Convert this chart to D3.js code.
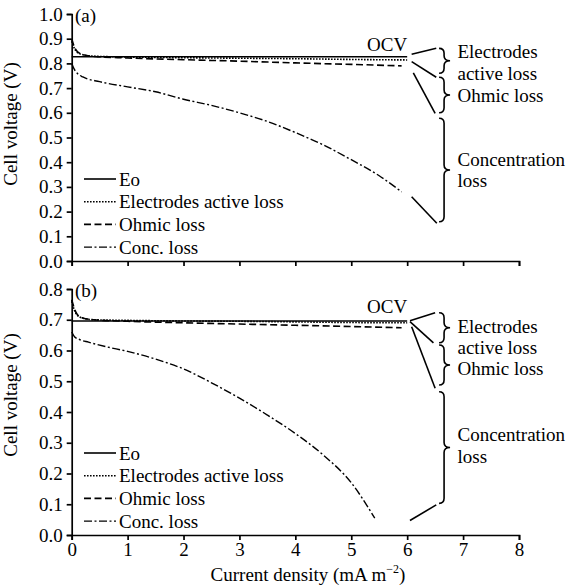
<!DOCTYPE html>
<html><head><meta charset="utf-8">
<script src="https://cdn.jsdelivr.net/npm/d3@7"></script>
<style>
body{margin:0;background:#fff}
text{font-family:"Liberation Serif","Times New Roman",serif;fill:#000}
</style>
</head><body>
<svg id="chart" width="568" height="588"></svg>
<script>
// ---------- data ----------
const seriesNames = ["Eo", "Electrodes active loss", "Ohmic loss", "Conc. loss"];
const xTickValues = [0, 1, 2, 3, 4, 5, 6, 7, 8];
const yTicksA = [0, 0.1, 0.2, 0.3, 0.4, 0.5, 0.6, 0.7, 0.8, 0.9, 1.0];
const yTicksB = [0, 0.1, 0.2, 0.3, 0.4, 0.5, 0.6, 0.7, 0.8];

// panel (a)
const aEo = [[0, 0.827], [6.0, 0.827]];
const aActive = [[0, 0.89], [0.05, 0.86], [0.1, 0.845], [0.2, 0.835], [0.4, 0.829], [1, 0.826], [2, 0.823], [3, 0.821], [4, 0.819], [5, 0.816], [6, 0.814]];
const aOhmic = [[0, 0.90], [0.05, 0.865], [0.1, 0.848], [0.2, 0.836], [0.4, 0.828], [1, 0.822], [2, 0.815], [3, 0.809], [4, 0.802], [5, 0.796], [5.9, 0.79]];
const aConc = [[0, 0.80], [0.05, 0.775], [0.1, 0.76], [0.2, 0.745], [0.5, 0.726], [1, 0.705], [1.5, 0.685], [2, 0.655], [2.5, 0.63], [3, 0.60], [3.5, 0.565], [4, 0.52], [4.5, 0.47], [5, 0.41], [5.5, 0.345], [5.9, 0.28]];

// panel (b)
const bEo = [[0, 0.696], [6.0, 0.696]];
const bActive = [[0, 0.76], [0.05, 0.73], [0.1, 0.715], [0.2, 0.705], [0.4, 0.70], [1, 0.698], [2, 0.696], [3, 0.695], [4, 0.693], [5, 0.691], [6, 0.69]];
const bOhmic = [[0, 0.765], [0.05, 0.735], [0.1, 0.717], [0.2, 0.706], [0.4, 0.70], [1, 0.695], [2, 0.69], [3, 0.686], [4, 0.682], [5, 0.678], [5.9, 0.674]];
const bConc = [[0, 0.66], [0.05, 0.645], [0.15, 0.635], [0.3, 0.627], [0.6, 0.613], [1, 0.597], [1.5, 0.572], [2, 0.54], [2.5, 0.495], [3, 0.445], [3.5, 0.39], [4, 0.33], [4.5, 0.26], [5, 0.17], [5.42, 0.055]];

// annotations (data units)
const annotLabels = ["OCV", "Electrodes", "active loss", "Ohmic loss", "Concentration", "loss"];
const aLeaders = [[[6.08, 0.837], [6.52, 0.861]], [[6.08, 0.807], [6.52, 0.744]], [[6.11, 0.762], [6.50, 0.598]], [[6.08, 0.26], [6.53, 0.153]]];
const aBraces = [[0.861, 0.760], [0.744, 0.600], [0.578, 0.159]];
const aTextY = [0.85, 0.82, 0.733, 0.644, 0.385, 0.298];
const bLeaders = [[[6.05, 0.697], [6.50, 0.723]], [[6.05, 0.694], [6.47, 0.625]], [[6.08, 0.677], [6.50, 0.477]], [[6.05, 0.047], [6.52, 0.098]]];
const bBraces = [[0.723, 0.625], [0.618, 0.488], [0.466, 0.103]];
const bTextY = [0.722, 0.656, 0.587, 0.52, 0.306, 0.234];

// ---------- layout ----------
const svg = d3.select("#chart");
const FS = 19;
const x = d3.scaleLinear().domain([0, 8]).range([71.7, 519]);
const styles = [
  {dash: null, w: 1.6},
  {dash: "1.6,1.4", w: 1.6},
  {dash: "7,3.5", w: 1.6},
  {dash: "8,2.5,2,2.5", w: 1.4}
];

function panel(cfg) {
  const y = d3.scaleLinear().domain(cfg.domain).range(cfg.range);
  const g = svg.append("g");
  const bottom = cfg.range[0], top = cfg.range[1];

  // axes
  const xa = g.append("g").attr("transform", `translate(0,${bottom})`)
    .call(d3.axisBottom(x).tickValues(xTickValues).tickSize(5).tickSizeOuter(5).tickPadding(3)
      .tickFormat(cfg.xLabels ? d3.format("d") : () => ""));
  const ya = g.append("g").attr("transform", `translate(${x(0)},0)`)
    .call(d3.axisLeft(y).tickValues(cfg.yTicks).tickSize(5).tickSizeOuter(5).tickPadding(4).tickFormat(d3.format(".1f")));
  [xa, ya].forEach(a => {
    a.selectAll("path,line").attr("stroke", "#000").attr("stroke-width", 1.7);
    a.selectAll("text").attr("font-size", FS).attr("font-family", '"Liberation Serif","Times New Roman",serif').attr("fill", "#000");
  });

  // y label
  g.append("text").attr("transform", `translate(17,${cfg.ylabelY}) rotate(-90)`)
    .attr("text-anchor", "middle").attr("font-size", FS).text("Cell voltage (V)");
  // panel tag
  g.append("text").attr("x", 75).attr("y", top + 8).attr("font-size", FS).text(cfg.tag);

  // series
  const line = d3.line().x(d => x(d[0])).y(d => y(d[1])).curve(d3.curveMonotoneX);
  cfg.series.forEach((s, i) => {
    g.append("path").attr("d", line(s)).attr("fill", "none").attr("stroke", "#000")
      .attr("stroke-width", styles[i].w).attr("stroke-dasharray", styles[i].dash);
  });

  // legend
  const ly0 = bottom - 82, ldy = 22.7;
  seriesNames.forEach((n, i) => {
    const yy = ly0 + i * ldy;
    g.append("line").attr("x1", 84).attr("x2", 116).attr("y1", yy).attr("y2", yy)
      .attr("stroke", "#000").attr("stroke-width", styles[i].w).attr("stroke-dasharray", styles[i].dash);
    g.append("text").attr("x", 119).attr("y", yy + 6.5).attr("font-size", FS).text(n);
  });

  // annotations
  g.append("text").attr("x", x(6.0)).attr("y", y(cfg.textY[0])).attr("text-anchor", "end")
    .attr("font-size", FS).text(annotLabels[0]);
  cfg.leaders.forEach(l => {
    g.append("line").attr("x1", x(l[0][0])).attr("y1", y(l[0][1])).attr("x2", x(l[1][0])).attr("y2", y(l[1][1]))
      .attr("stroke", "#000").attr("stroke-width", 1.6);
  });
  const bx = x(6.66), r = 5, t = 6;
  cfg.braces.forEach(b => {
    const y0 = y(b[0]), y1 = y(b[1]), ym = (y0 + y1) / 2;
    const p = `M${bx - r},${y0} Q${bx},${y0} ${bx},${y0 + r} L${bx},${ym - r} Q${bx},${ym} ${bx + t},${ym} Q${bx},${ym} ${bx},${ym + r} L${bx},${y1 - r} Q${bx},${y1} ${bx - r},${y1}`;
    g.append("path").attr("d", p).attr("fill", "none").attr("stroke", "#000").attr("stroke-width", 1.6);
  });
  for (let i = 1; i < annotLabels.length; i++) {
    g.append("text").attr("x", x(6.9)).attr("y", y(cfg.textY[i])).attr("font-size", FS).text(annotLabels[i]);
  }
}

panel({domain: [0, 1], range: [261, 14], yTicks: yTicksA, xLabels: false, tag: "(a)", ylabelY: 124,
  series: [aEo, aActive, aOhmic, aConc], leaders: aLeaders, braces: aBraces, textY: aTextY});
panel({domain: [0, 0.8], range: [535, 289], yTicks: yTicksB, xLabels: true, tag: "(b)", ylabelY: 395,
  series: [bEo, bActive, bOhmic, bConc], leaders: bLeaders, braces: bBraces, textY: bTextY});

// x-axis title
const xt = svg.append("text").attr("x", 308).attr("y", 581).attr("text-anchor", "middle").attr("font-size", FS);
xt.append("tspan").text("Current density (mA m");
xt.append("tspan").attr("font-size", 12).attr("dy", -8).text("\u22122");
xt.append("tspan").attr("dy", 8).text(")");
</script>
</body></html>
